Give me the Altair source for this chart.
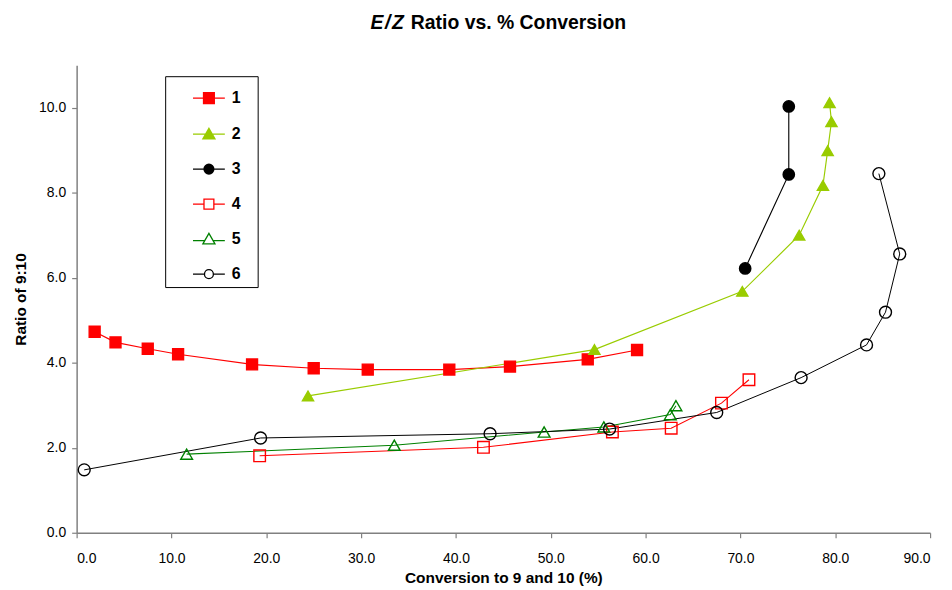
import altair as alt
import pandas as pd

# ---- data ----
series_names = ["1", "2", "3", "4", "5", "6"]

s1_x = [1.9, 4.1, 7.5, 10.7, 18.5, 25.0, 30.7, 39.3, 45.7, 53.9, 59.1]
s1_y = [4.73, 4.48, 4.33, 4.20, 3.96, 3.87, 3.84, 3.84, 3.91, 4.08, 4.30]

s2_x = [24.4, 54.6, 70.2, 76.2, 78.7, 79.2, 79.6, 79.4]
s2_y = [3.22, 4.31, 5.68, 7.00, 8.17, 8.99, 9.67, 10.12]

s3_x = [70.5, 75.1, 75.1]
s3_y = [6.22, 8.43, 10.03]

s4_x = [19.3, 42.9, 56.5, 62.7, 68.0, 70.9]
s4_y = [1.81, 2.01, 2.37, 2.46, 3.05, 3.60]

s5_x = [11.6, 33.5, 49.3, 55.6, 62.6, 63.2]
s5_y = [1.85, 2.06, 2.37, 2.49, 2.78, 2.99]

s6_x = [0.8, 19.4, 43.6, 56.2, 67.5, 76.4, 83.3, 85.3, 86.8, 84.6]
s6_y = [1.48, 2.23, 2.33, 2.44, 2.83, 3.65, 4.42, 5.19, 6.56, 8.45]

x_ticks = [0, 10, 20, 30, 40, 50, 60, 70, 80, 90]
y_ticks = [0, 2, 4, 6, 8, 10]

# ---- styles ----
line_colors = ["#FF0000", "#99CC00", "#000000", "#FF0000", "#008000", "#000000"]
fill_colors = ["#FF0000", "#99CC00", "#000000", "transparent", "transparent", "transparent"]
shapes = ["square", "triangle-up", "circle", "square", "triangle-up", "circle"]
sizes = [121, 144, 100, 100, 121, 85]
line_widths = [1.2, 1.0, 1.3, 1.1, 1.4, 1.2]


# legend symbols: a line with a marker; solid markers are drawn as dense strokes
def _steps(a, b, step=0.055):
    n = int(round((b - a) / step)) + 1
    return [a + (b - a) * i / (n - 1) for i in range(n)]


def solid_square(r):
    p = f"M{-r},{-r}H{r}V{r}H{-r}Z"
    for y in _steps(-r, r):
        p += f"M{-r:.3f},{y:.3f}H{r:.3f}"
    return p


def solid_triangle(top, base, hw):
    p = f"M0,{top}L{hw},{base}H{-hw}Z"
    for y in _steps(top, base):
        w = hw * (y - top) / (base - top)
        p += f"M{-w:.3f},{y:.3f}H{w:.3f}"
    return p


def solid_circle(r):
    p = f"M{r},0A{r},{r} 0 1,1 {-r},0A{r},{r} 0 1,1 {r},0Z"
    for y in _steps(-r, r):
        w = max(r * r - y * y, 0) ** 0.5
        p += f"M{-w:.3f},{y:.3f}H{w:.3f}"
    return p


legend_paths = [
    "M-1,0H1" + solid_square(0.34),
    "M-1,0H1" + solid_triangle(-0.36, 0.3, 0.38),
    "M-1,0H1" + solid_circle(0.31),
    "M-1,0H-0.31M0.31,0H1M-0.31,-0.31H0.31V0.31H-0.31Z",
    "M-1,0.1H-0.27M0.27,0.1H1M0,-0.36L0.38,0.3H-0.38Z",
    "M-1,0H-0.28M0.28,0H1M0.28,0A0.28,0.28 0 1,1 -0.28,0A0.28,0.28 0 1,1 0.28,0Z",
]

rows = []
for name, xs, ys in zip(series_names,
                        [s1_x, s2_x, s3_x, s4_x, s5_x, s6_x],
                        [s1_y, s2_y, s3_y, s4_y, s5_y, s6_y]):
    for i, (xv, yv) in enumerate(zip(xs, ys)):
        rows.append({"series": name, "conv": xv, "ratio": yv, "idx": i})
df = pd.DataFrame(rows)

FONT = "Liberation Sans"

x_enc = alt.X("conv:Q",
              scale=alt.Scale(domain=[0, 90], nice=False, zero=False),
              axis=alt.Axis(values=x_ticks, format=".1f", grid=False,
                            title="Conversion to 9 and 10 (%)",
                            labelPadding=14, titlePadding=5))
y_enc = alt.Y("ratio:Q",
              scale=alt.Scale(domain=[0, 11], nice=False, zero=False),
              axis=alt.Axis(values=y_ticks, format=".1f", grid=False,
                            title="Ratio of 9:10", labelPadding=6,
                            titlePadding=10))

base = alt.Chart(df).encode(x=x_enc, y=y_enc)

lines = base.mark_line().encode(
    color=alt.Color("series:N", scale=alt.Scale(domain=series_names, range=line_colors), legend=None),
    strokeWidth=alt.StrokeWidth("series:N", scale=alt.Scale(domain=series_names, range=line_widths), legend=None),
    order=alt.Order("idx:Q"),
)

points = base.mark_point(opacity=1, strokeWidth=1.4).encode(
    stroke=alt.Stroke("series:N", scale=alt.Scale(domain=series_names, range=line_colors), legend=None),
    fill=alt.Fill("series:N", scale=alt.Scale(domain=series_names, range=fill_colors), legend=None),
    shape=alt.Shape("series:N", scale=alt.Scale(domain=series_names, range=shapes), legend=None),
    size=alt.Size("series:N", scale=alt.Scale(domain=series_names, range=sizes), legend=None),
)

PADCH = "\u2800"
leg = alt.Legend(title=None, orient="none", legendX=89, legendY=11,
                 strokeColor="black", padding=5, symbolSize=1024,
                 symbolStrokeWidth=1.3, symbolOffset=22, labelOffset=6,
                 labelFont=FONT, labelFontSize=16, labelFontWeight="bold",
                 labelColor="black", rowPadding=10.2,
                 labelExpr="datum.label + '" + PADCH + "'")

legend_layer = base.mark_point(opacity=0, size=1024).encode(
    stroke=alt.Stroke("series:N", scale=alt.Scale(domain=series_names, range=line_colors), legend=leg),
    shape=alt.Shape("series:N", scale=alt.Scale(domain=series_names, range=legend_paths), legend=leg),
)

title_src = alt.Data(values=[{"k": 1}])
title_a = alt.Chart(title_src).mark_text(
    text="E\u200a/\u200aZ", font=FONT, fontSize=19.5, fontWeight="bold", fontStyle="italic",
    align="right", baseline="alphabetic", color="black"
).encode(x=alt.value(329), y=alt.value(-36))
title_b = alt.Chart(title_src).mark_text(
    text="Ratio vs. % Conversion", font=FONT, fontSize=19.5, fontWeight="bold",
    align="left", baseline="alphabetic", color="black"
).encode(x=alt.value(336), y=alt.value(-36))

chart = alt.layer(lines, points, legend_layer, title_a, title_b).resolve_scale(
    shape="independent", fill="independent", stroke="independent", color="independent"
).properties(
    width=858, height=470,
    autosize=alt.AutoSizeParams(type="none"),
    padding={"left": 69, "top": 56, "right": 14, "bottom": 56},
).configure_view(stroke=None).configure_axis(
    labelFont=FONT, labelFontSize=14, labelColor="black",
    titleFont=FONT, titleFontSize=15.5, titleFontWeight="bold", titleColor="black",
    domainColor="#808080", tickColor="#808080", domainWidth=1.5, tickWidth=1.2, tickSize=5,
)

chart.save("out.html", embed_options={"renderer": "svg", "actions": False})
